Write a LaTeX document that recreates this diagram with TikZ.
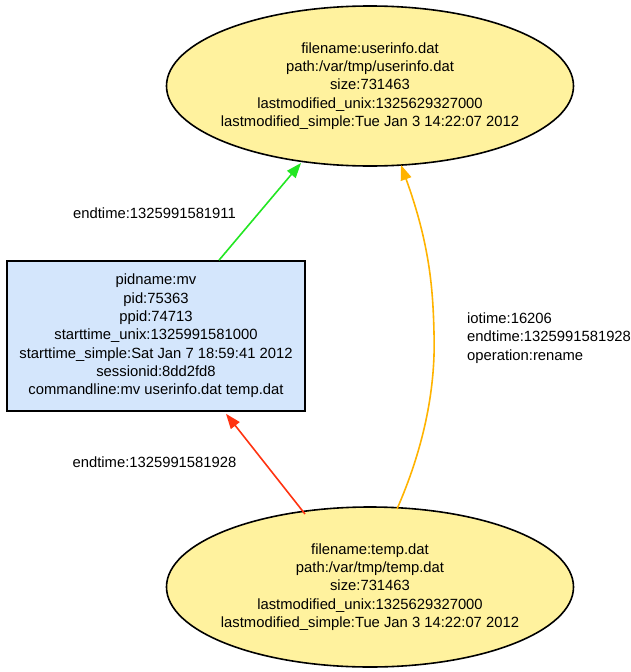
\documentclass[tikz,border=0pt]{standalone}
\usepackage{fontspec}
\setmainfont{Liberation Sans}
\usetikzlibrary{shapes.geometric,arrows.meta}
\definecolor{fileyellow}{HTML}{FFF29E}
\definecolor{procblue}{HTML}{D4E6FC}
\definecolor{egreen}{HTML}{22E622}
\definecolor{ered}{HTML}{FF3311}
\definecolor{eorange}{HTML}{FFB300}
\tikzset{
  txt/.style={font=\fontsize{14.8}{18.3}\selectfont, inner sep=0pt},
  filenode/.style={ellipse, draw=black, line width=1.6pt, fill=fileyellow,
    minimum width=407pt, minimum height=160pt, inner sep=0pt},
  filetext/.style={txt, align=center},
  procnode/.style={rectangle, draw=black, line width=1.6pt, fill=procblue,
    minimum width=298pt, minimum height=150pt, inner sep=0pt, align=center,
    font=\fontsize{14.8}{18.3}\selectfont},
  edge/.style={line width=1.6pt, -{Triangle[length=15pt,width=11pt]}},
}
\begin{document}
\begin{tikzpicture}[x=1pt,y=-1pt]
\useasboundingbox (0,0) rectangle (631,672);
\node[filenode] (top) at (370,86) {};
\node[filetext] (toptext) at (top.center) {filename:userinfo.dat\\path:/var/tmp/userinfo.dat\\size:731463\\lastmodified\_unix:1325629327000\\lastmodified\_simple:Tue Jan 3 14:22:07 2012};
\node[filenode] (bot) at (370,587) {};
\node[filetext] (bottext) at (bot.center) {filename:temp.dat\\path:/var/tmp/temp.dat\\size:731463\\lastmodified\_unix:1325629327000\\lastmodified\_simple:Tue Jan 3 14:22:07 2012};
\node[procnode] (proc) at (156,336) {pidname:mv\\pid:75363\\ppid:74713\\starttime\_unix:1325991581000\\starttime\_simple:Sat Jan 7 18:59:41 2012\\sessionid:8dd2fd8\\commandline:mv userinfo.dat temp.dat};
\coordinate (gS) at ([xshift=63pt]proc.north);
\coordinate (gT) at ([shift={(-69,77)}]top.center);
\draw[edge, egreen] (gS) -- (gT);
\coordinate (rS) at ([shift={(-65,-73)}]bot.center);
\coordinate (rT) at ([xshift=70pt,yshift=-2pt]proc.south);
\draw[edge, ered] (rS) -- (rT);
\coordinate (oS) at ([shift={(27,-78)}]bot.center);
\coordinate (oT) at ([shift={(31,79)}]top.center);
\draw[edge, eorange] (oS) .. controls (422,452) and (436,392) .. (434,333) .. controls (433,290) and (430,245) .. (oT);
\node[txt, anchor=center] (gl) at (154.5,213) {endtime:1325991581911};
\node[txt, anchor=center] (rl) at (154.5,462) {endtime:1325991581928};
\node[txt, anchor=west, align=left] (ol) at (467,338) {iotime:16206\\endtime:1325991581928\\operation:rename};
\end{tikzpicture}
\end{document}
